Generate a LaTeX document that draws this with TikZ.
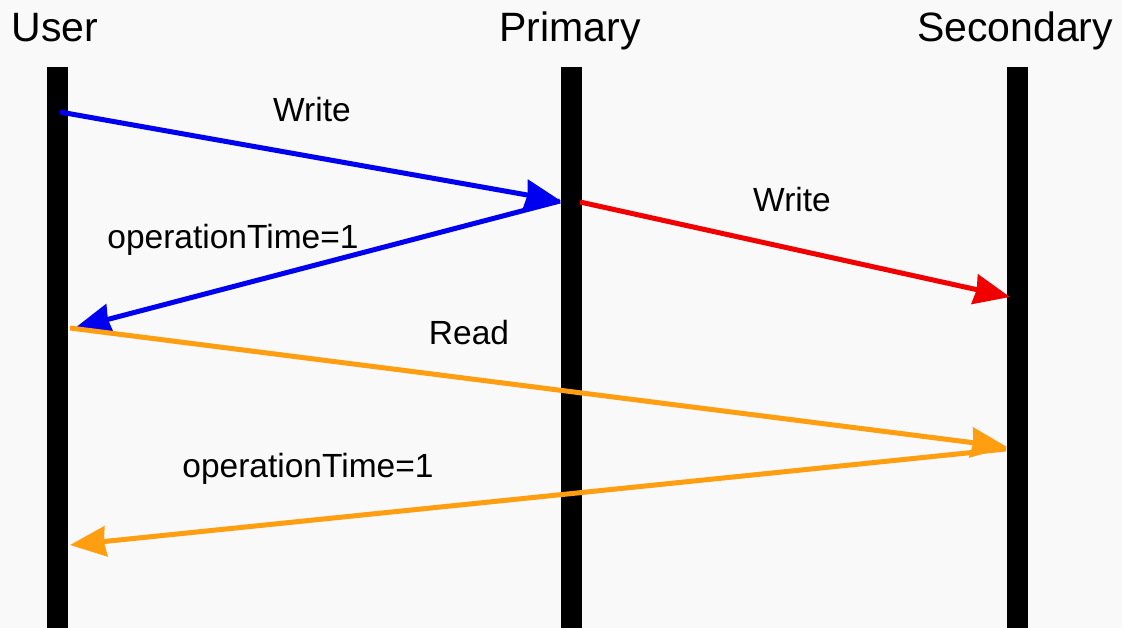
\documentclass[tikz,border=0pt]{standalone}
\usepackage{fontspec}
\setmainfont{Liberation Sans}
\usetikzlibrary{arrows.meta}
\definecolor{bg}{RGB}{249,249,249}
\definecolor{msgblue}{RGB}{0,0,240}
\definecolor{msgred}{RGB}{240,0,0}
\definecolor{msgorange}{RGB}{255,158,16}
\tikzset{
  lifeline/.style={line width=21pt},
  actor/.style={font=\fontsize{41}{41}\selectfont, inner sep=0pt, anchor=base},
  msglabel/.style={font=\fontsize{33.5}{34}\selectfont, inner sep=0pt},
  msg/.style={line width=5pt, -{Stealth[length=36pt,width=30pt,inset=2pt]}}
}
\begin{document}
\begin{tikzpicture}[x=1pt,y=-1pt]
\fill[bg] (0,0) rectangle (1122,628);
\useasboundingbox (0,0) rectangle (1122,628);

% participants
\node[actor] (user) at (55,42) {User};
\node[actor] (primary) at (570,42) {Primary};
\node[actor] (secondary) at (1015,42) {Secondary};

% lifelines
\coordinate (uTop) at (57,67);   \coordinate (uBot) at (57,640);
\coordinate (pTop) at (571,67);  \coordinate (pBot) at (571,640);
\coordinate (sTop) at (1017,67); \coordinate (sBot) at (1017,640);
\draw[lifeline] (uTop) -- (uBot);
\draw[lifeline] (pTop) -- (pBot);
\draw[lifeline] (sTop) -- (sBot);

% message end points on the lifelines
\coordinate (w1s) at (60,112);   \coordinate (w1e) at (561,201);
\coordinate (r1s) at (560,201);  \coordinate (r1e) at (75,328);
\coordinate (w2s) at (580,202);  \coordinate (w2e) at (1010,297);
\coordinate (rds) at (70,328);   \coordinate (rde) at (1007,447);
\coordinate (r2s) at (1006,449); \coordinate (r2e) at (70,545);

% messages
\draw[msg, msgblue] (w1s) -- (w1e);
\draw[msg, msgblue] (r1s) -- (r1e);
\draw[msg, msgred] (w2s) -- (w2e);
\draw[msg, msgorange] (rds) -- (rde);
\draw[msg, msgorange] (r2s) -- (r2e);

% message labels
\node[msglabel] (lw1) at (312,110) {Write};
\node[msglabel] (lr1) at (233,240) {operationTime=1};
\node[msglabel] (lw2) at (792,200) {Write};
\node[msglabel] (lrd) at (469,333) {Read};
\node[msglabel] (lr2) at (308,469) {operationTime=1};
\end{tikzpicture}
\end{document}
